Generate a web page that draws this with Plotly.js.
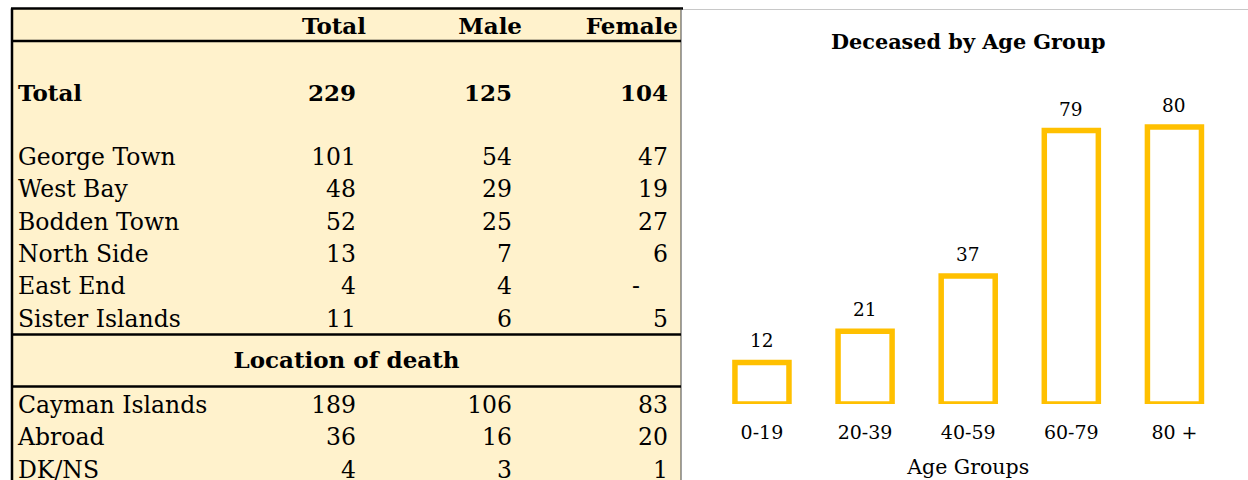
<!DOCTYPE html>
<html>
<head>
<meta charset="utf-8">
<script src="https://cdn.plot.ly/plotly-3.0.1.min.js"></script>
<style>
  html, body { margin: 0; padding: 0; background: #ffffff; }
  #chart { width: 1248px; height: 480px; }
</style>
</head>
<body>
<div id="chart"></div>
<script>
// ---------------- DATA ----------------
const tableHeaders = ['Total', 'Male', 'Female'];
const overallLabel = 'Total';
const overallValues = [229, 125, 104];

const districts = ['George Town', 'West Bay', 'Bodden Town', 'North Side', 'East End', 'Sister Islands'];
const districtTotal = [101, 48, 52, 13, 4, 11];
const districtMale = [54, 29, 25, 7, 4, 6];
const districtFemale = [47, 19, 27, 6, null, 5];

const locationTitle = 'Location of death';
const locations = ['Cayman Islands', 'Abroad', 'DK/NS'];
const locationTotal = [189, 36, 4];
const locationMale = [106, 16, 3];
const locationFemale = [83, 20, 1];

const chartTitle = 'Deceased by Age Group';
const ageGroups = ['0-19', '20-39', '40-59', '60-79', '80 +'];
const ageDeceased = [12, 21, 37, 79, 80];
const ageAxisTitle = 'Age Groups';

// ---------------- LAYOUT / STYLE ----------------
const W = 1248, H = 480;
const FONT = 'DejaVu Serif, Liberation Serif, serif';
const GOLD = '#FFC000';
const CREAM = '#FFF2CC';
const TABLE_FS = 23.5;
const TABLE_BOLD_FS = 23;

// table geometry (in table-axis units = pixels of the table panel)
const TBL = { left: 12, right: 681, top: 8.5 };
const COL = { label: 18, total: 356, male: 512, female: 668 };
const HEADER_SHIFT = 10;      // header text sits right of the number column edge
const DASH_SHIFT = 28;        // accounting dash padding
const ROW = { header: 28, overall: 95, districtStart: 159, step: 32.4, locTitle: 362, locStart: 407 };
const LINES_Y = [41, 334.5, 386.5];

const px = v => v / W;
const py = v => 1 - v / H;

const traces = [];

function textTrace(xs, ys, texts, pos, bold) {
  return {
    type: 'scatter', mode: 'text', xaxis: 'x2', yaxis: 'y2',
    x: xs, y: ys,
    text: texts.map(t => bold ? '<b>' + t + '</b>' : String(t)),
    textposition: pos,
    textfont: { family: FONT, size: bold ? TABLE_BOLD_FS : TABLE_FS, color: '#000000' },
    hoverinfo: 'skip', cliponaxis: false, showlegend: false
  };
}

const colKeys = ['total', 'male', 'female'];

// header row
traces.push(textTrace(colKeys.map(k => COL[k] + HEADER_SHIFT), colKeys.map(() => ROW.header),
  tableHeaders, 'middle left', true));

// overall row
traces.push(textTrace([COL.label], [ROW.overall], [overallLabel], 'middle right', true));
traces.push(textTrace(colKeys.map(k => COL[k]), colKeys.map(() => ROW.overall),
  overallValues, 'middle left', true));

function addSection(labels, cols, yStart) {
  const ys = labels.map((_, i) => yStart + i * ROW.step);
  traces.push(textTrace(labels.map(() => COL.label), ys, labels, 'middle right', false));
  cols.forEach((vals, c) => {
    const xs = [], yy = [], tx = [], dx = [], dy = [];
    vals.forEach((v, i) => {
      if (v === null) { dx.push(COL[colKeys[c]] - DASH_SHIFT); dy.push(ys[i]); }
      else { xs.push(COL[colKeys[c]]); yy.push(ys[i]); tx.push(v); }
    });
    traces.push(textTrace(xs, yy, tx, 'middle left', false));
    if (dx.length) traces.push(textTrace(dx, dy, dx.map(() => '-'), 'middle left', false));
  });
}
addSection(districts, [districtTotal, districtMale, districtFemale], ROW.districtStart);
addSection(locations, [locationTotal, locationMale, locationFemale], ROW.locStart);

// section title
traces.push(textTrace([(TBL.left + TBL.right) / 2], [ROW.locTitle], [locationTitle], 'middle center', true));

// bar chart
traces.push({
  type: 'bar', x: ageGroups, y: ageDeceased, xaxis: 'x', yaxis: 'y',
  marker: { color: '#FFFFFF', line: { color: GOLD, width: 5.5 } },
  hoverinfo: 'skip', showlegend: false
});

const annotations = ageGroups.map((g, i) => ({
  x: g, y: ageDeceased[i], xref: 'x', yref: 'y',
  text: String(ageDeceased[i]), showarrow: false,
  xanchor: 'center', yanchor: 'middle', yshift: 21.5,
  font: { family: FONT, size: 18.5, color: '#000000' }
}));

const shapes = [
  { type: 'rect', xref: 'x2', yref: 'y2', x0: TBL.left, x1: TBL.right, y0: TBL.top, y1: H,
    fillcolor: CREAM, line: { width: 0 }, layer: 'below' },
  // thin grey continuation of the sheet's top rule
  { type: 'line', xref: 'paper', yref: 'paper', x0: px(683), x1: 1, y0: py(9.5), y1: py(9.5),
    line: { color: '#C8C8C8', width: 1 } },
  // top thick rule
  { type: 'line', xref: 'x2', yref: 'y2', x0: TBL.left - 1, x1: TBL.right + 2, y0: TBL.top, y1: TBL.top,
    line: { color: '#000000', width: 2.5 } },
  // left border
  { type: 'line', xref: 'x2', yref: 'y2', x0: TBL.left, x1: TBL.left, y0: TBL.top, y1: H,
    line: { color: '#000000', width: 2.5 } },
  // right border
  { type: 'line', xref: 'x2', yref: 'y2', x0: TBL.right, x1: TBL.right, y0: TBL.top, y1: H,
    line: { color: '#444444', width: 1 } }
].concat(LINES_Y.map(y => ({
  type: 'line', xref: 'x2', yref: 'y2', x0: TBL.left, x1: TBL.right, y0: y, y1: y,
  line: { color: '#000000', width: 2.5 }
})));

const layout = {
  width: W, height: H,
  margin: { l: 0, r: 0, t: 0, b: 0, pad: 0 },
  paper_bgcolor: '#FFFFFF', plot_bgcolor: 'rgba(0,0,0,0)',
  showlegend: false,
  bargap: 0.476,
  title: {
    text: '<b>' + chartTitle + '</b>',
    x: px(968.3), xanchor: 'center', xref: 'paper',
    y: py(42), yanchor: 'middle', yref: 'paper',
    font: { family: FONT, size: 20.8, color: '#000000' }
  },
  xaxis: {
    domain: [px(710.4), px(1226)], anchor: 'y', type: 'category',
    range: [-0.5, 4.5], showline: false, showgrid: false, zeroline: false,
    ticks: '', ticklabelstandoff: 15,
    tickfont: { family: FONT, size: 19, color: '#000000' },
    title: { text: ageAxisTitle, standoff: 17, font: { family: FONT, size: 20.5, color: '#000000' } },
    fixedrange: true
  },
  yaxis: {
    domain: [py(404), py(92.5)], anchor: 'x', range: [0, 90],
    visible: false, showgrid: false, zeroline: false, fixedrange: true
  },
  xaxis2: { domain: [0, px(TBL.right + 2)], anchor: 'y2', range: [0, TBL.right + 2], visible: false, fixedrange: true },
  yaxis2: { domain: [0, 1], anchor: 'x2', range: [H, 0], visible: false, fixedrange: true },
  shapes: shapes,
  annotations: annotations
};

Plotly.newPlot('chart', traces, layout, { displayModeBar: false, staticPlot: true });
</script>
</body>
</html>
